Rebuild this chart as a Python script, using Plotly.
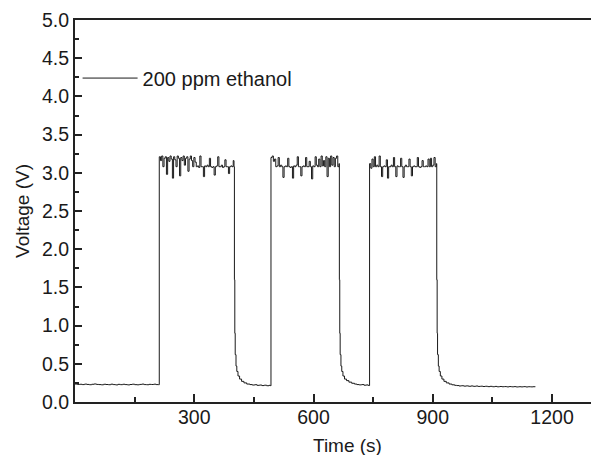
import plotly.graph_objects as go

# ---- data ----
# baseline before first exposure: sampled every 6 s from t = 0 s
base1_t0, base1_dt = 0, 6
base1_v = [0.235, 0.23, 0.232, 0.228, 0.234, 0.23, 0.226, 0.232, 0.236, 0.23,
           0.228, 0.225, 0.232, 0.229, 0.226, 0.233, 0.228, 0.224, 0.231, 0.227,
           0.232, 0.228, 0.224, 0.229, 0.233, 0.227, 0.225, 0.23, 0.234, 0.228,
           0.226, 0.231, 0.229, 0.233, 0.228, 0.226]

# plateau 1 (gas on), sampled every 3 s from t = 212 s
plat1_t0, plat1_dt = 212, 3
plat1_v = [3.21, 3.16, 3.22, 3.08, 3.19, 3.21, 2.98, 3.20, 3.15, 3.22, 3.18, 2.93, 3.21, 3.17, 3.08, 3.22, 3.19, 2.96, 3.20, 3.16,
           3.22, 3.10, 3.19, 3.21, 3.02, 3.18, 3.22, 3.16, 3.08, 3.20, 3.14, 3.08, 3.09, 3.07, 3.22, 3.08, 3.08, 2.95, 3.09, 3.08,
           3.10, 3.08, 3.19, 3.08, 3.07, 3.08, 2.97, 3.08, 3.09, 3.21, 3.08, 3.08, 3.10, 3.07, 3.08, 3.17, 3.08, 3.08, 2.99, 3.08,
           3.09, 3.08, 3.16]

# recovery 1 (gas off)
rec1_t = [400, 401, 402, 403, 405, 407, 410, 414, 419, 425, 432, 440, 446, 452, 458, 464, 470, 476, 482, 488, 492]
rec1_v = [3.08, 1.6, 0.9, 0.62, 0.47, 0.40, 0.34, 0.30, 0.27, 0.25, 0.235, 0.228, 0.222, 0.226, 0.218, 0.222, 0.215, 0.22, 0.213, 0.218, 0.212]

# plateau 2, sampled every 3 s from t = 493 s
plat2_t0, plat2_dt = 493, 3
plat2_v = [3.20, 3.22, 3.15, 3.18, 3.08, 3.09, 3.20, 3.08, 3.10, 3.08, 2.94, 3.08, 3.09, 3.08, 3.19, 3.08, 3.07, 3.08, 2.93, 3.09,
           3.08, 3.10, 3.21, 3.08, 3.08, 2.96, 3.08, 3.09, 3.08, 3.20, 3.08, 3.08, 3.15, 3.08, 2.92, 3.09, 3.08, 3.21, 3.10, 3.08,
           3.18, 3.08, 3.22, 3.09, 3.16, 3.08, 3.21, 2.95, 3.19, 3.08, 3.22, 3.10, 3.20, 3.08, 3.19, 3.22, 3.08, 3.12]

# recovery 2
rec2_t = [664, 665, 666, 667, 669, 671, 674, 678, 683, 689, 696, 703, 709, 715, 721, 727, 733, 737, 740]
rec2_v = [3.12, 1.6, 0.9, 0.62, 0.47, 0.40, 0.34, 0.30, 0.28, 0.26, 0.245, 0.235, 0.228, 0.224, 0.228, 0.22, 0.224, 0.218, 0.215]

# plateau 3, sampled every 3 s from t = 741 s
plat3_t0, plat3_dt = 741, 3
plat3_v = [3.12, 3.06, 3.18, 3.08, 3.21, 3.08, 3.10, 3.08, 3.22, 3.08, 2.95, 3.08, 3.09, 3.08, 3.17, 2.93, 3.08, 3.08, 3.10, 3.08,
           3.20, 3.08, 2.95, 3.09, 3.08, 3.08, 3.19, 3.08, 2.94, 3.08, 3.10, 3.08, 3.08, 3.18, 3.08, 2.96, 3.08, 3.09, 3.08, 3.08,
           3.20, 3.08, 3.07, 3.08, 3.16, 3.08, 3.08, 3.09, 3.08, 3.18, 3.08, 3.19, 3.08, 3.10, 3.20, 3.08, 3.12]

# recovery 3
rec3_t = [909, 910, 911, 912, 914, 916, 919, 923, 928, 934, 941, 948, 955]
rec3_v = [3.12, 1.6, 0.9, 0.62, 0.47, 0.40, 0.34, 0.30, 0.27, 0.25, 0.235, 0.225, 0.218]

# final baseline, sampled every 6 s from t = 960 s
base2_t0, base2_dt = 960, 6
base2_v = [0.215, 0.21, 0.213, 0.208, 0.211, 0.206, 0.21, 0.205, 0.209, 0.204,
           0.207, 0.203, 0.206, 0.201, 0.205, 0.2, 0.204, 0.199, 0.203, 0.2,
           0.202, 0.198, 0.202, 0.199, 0.201, 0.197, 0.2, 0.198, 0.201, 0.197,
           0.2, 0.198, 0.2, 0.199]

legend_label = "200 ppm ethanol"
x_ticks = [300, 600, 900, 1200]

# ---- assemble the series ----
def sampled(t0, dt, vals):
    return [t0 + dt * i for i in range(len(vals))], list(vals)

t_all, v_all = [], []
for seg in (sampled(base1_t0, base1_dt, base1_v),
            sampled(plat1_t0, plat1_dt, plat1_v),
            (rec1_t, rec1_v),
            sampled(plat2_t0, plat2_dt, plat2_v),
            (rec2_t, rec2_v),
            sampled(plat3_t0, plat3_dt, plat3_v),
            (rec3_t, rec3_v),
            sampled(base2_t0, base2_dt, base2_v)):
    t_all += seg[0]
    v_all += seg[1]

FONT = "Liberation Sans, Arial, Helvetica, sans-serif"
INK = "#1a1a1a"

fig = go.Figure()
fig.add_trace(go.Scatter(x=t_all, y=v_all, mode="lines", name=legend_label,
                         line=dict(color=INK, width=1, shape="hv"), showlegend=True))

fig.update_layout(
    width=591, height=455,
    margin=dict(l=75, r=0, t=20, b=53),
    paper_bgcolor="white", plot_bgcolor="white",
    font=dict(family=FONT, size=19.5, color=INK),
    showlegend=True,
    legend=dict(x=0.005, y=0.848, xanchor="left", yanchor="middle",
                bgcolor="rgba(0,0,0,0)", borderwidth=0,
                font=dict(family=FONT, size=20, color=INK),
                itemwidth=55),
    annotations=[dict(text="Time (s)", xref="paper", yref="paper",
                      x=0.529, y=-0.1126, xanchor="center", yanchor="middle",
                      showarrow=False, font=dict(family=FONT, size=19, color=INK))],
)
fig.update_xaxes(
    range=[0, 1298], tickvals=x_ticks, ticktext=[str(v) for v in x_ticks],
    showgrid=False, zeroline=False,
    showline=True, linecolor="#222", linewidth=2, mirror=True,
    ticks="inside", ticklen=8, tickwidth=1.5, tickcolor="#222",
    ticklabelstandoff=-3,
    minor=dict(dtick=150, tick0=0, ticks="inside", ticklen=5, tickwidth=1.5, tickcolor="#222", showgrid=False),
)
fig.update_yaxes(
    range=[0, 5.0], dtick=0.5, tick0=0, tickformat=".1f",
    showgrid=False, zeroline=False,
    showline=True, linecolor="#222", linewidth=2, mirror=False,
    ticks="inside", ticklen=7, tickwidth=1.5, tickcolor="#222",
    minor=dict(dtick=0.25, tick0=0, ticks="inside", ticklen=4, tickwidth=1.5, tickcolor="#222", showgrid=False),
    title=dict(text="Voltage (V)", standoff=7, font=dict(family=FONT, size=19, color=INK)),
)

fig.write_html("out.html", config={"displayModeBar": False},
               post_script="document.body.style.margin='0';")
